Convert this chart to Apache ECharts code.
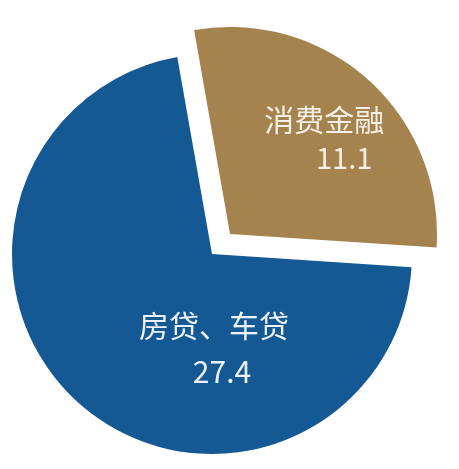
<!DOCTYPE html>
<html>
<head>
<meta charset="utf-8">
<script src="https://cdn.jsdelivr.net/npm/echarts@6/dist/echarts.min.js"></script>
<style>
  html, body { margin: 0; padding: 0; background: #ffffff; }
  #chart { width: 459px; height: 469px; }
</style>
</head>
<body>
<div id="chart"></div>
<script>
// ---- data ----
const categories = ['消费金融', '房贷、车贷'];
const values = [11.1, 27.4];
const sliceColors = ['#A5834F', '#145894'];

// ---- chart ----
const chart = echarts.init(document.getElementById('chart'), null, { renderer: 'canvas' });
const fontFamily = '"Noto Sans CJK SC", "Noto Sans", sans-serif';

function buildData(k) {
  return categories.map((name, i) => ({
    name: name,
    value: values[i],
    selected: i === k && k === 0,
    itemStyle: { color: i === k ? sliceColors[i] : 'rgba(0,0,0,0)' },
    label: { show: i === k }
  }));
}

const option = {
  animation: false,
  backgroundColor: '#ffffff',
  series: [
    {
      type: 'pie',
      center: [212, 254],
      radius: 200,
      startAngle: 100,
      clockwise: true,
      silent: true,
      selectedMode: false,
      emphasis: { disabled: true },
      itemStyle: { borderWidth: 0 },
      label: {
        position: 'center',
        color: '#EEF2F7',
        fontFamily: fontFamily,
        formatter: '{n|{b}}\n{v|{c}}',
        rich: {
          n: { fontSize: 30, lineHeight: 46, color: '#EEF2F7', fontFamily: fontFamily },
          v: { fontSize: 30, lineHeight: 46, color: '#EEF2F7', fontFamily: fontFamily, padding: [0, 0, 0, 16] }
        }
      },
      labelLine: { show: false },
      labelLayout: { dx: 2, dy: 95 },
      data: buildData(1)
    },
    {
      type: 'pie',
      center: [212, 254],
      radius: 207,
      startAngle: 100,
      clockwise: true,
      silent: true,
      selectedMode: 'single',
      selectedOffset: 27,
      emphasis: { disabled: true },
      itemStyle: { borderWidth: 0 },
      label: {
        position: 'inside',
        color: '#F5EFE6',
        fontFamily: fontFamily,
        formatter: '{n|{b}}\n{v|{c}}',
        rich: {
          n: { fontSize: 30, lineHeight: 38, color: '#F5EFE6', fontFamily: fontFamily },
          v: { fontSize: 29, lineHeight: 38, color: '#F5EFE6', fontFamily: fontFamily, padding: [0, 0, 0, 40] }
        }
      },
      labelLine: { show: false },
      labelLayout: { dx: 23, dy: -16 },
      data: buildData(0)
    }
  ]
};
chart.setOption(option);
</script>
</body>
</html>
